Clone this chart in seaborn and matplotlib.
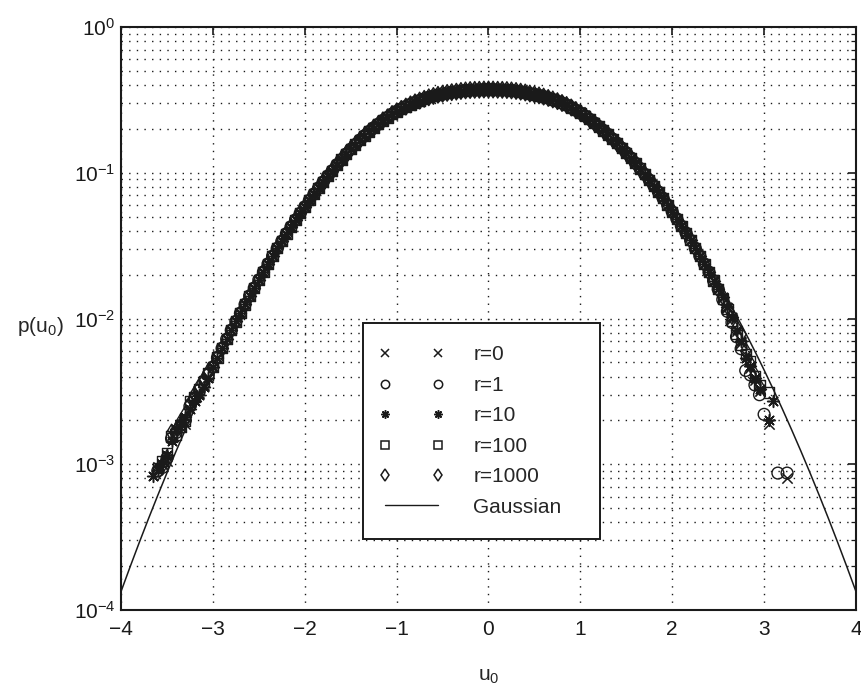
import numpy as np
import pandas as pd
import matplotlib
matplotlib.use("Agg")
import matplotlib.pyplot as plt
import seaborn as sns
from matplotlib.lines import Line2D
from matplotlib.legend_handler import HandlerLine2D
from matplotlib.ticker import LogLocator, NullFormatter, LogFormatterMathtext, FixedLocator

nan = np.nan

# ---------------- data ----------------
series_labels = ["r=0", "r=1", "r=10", "r=100", "r=1000"]

u0_left = [-3.65, -3.60, -3.55, -3.50, -3.45, -3.40, -3.35, -3.30, -3.25,
           -3.20, -3.15, -3.10, -3.05]
p_left_r0 = [nan, 9.6e-4, 1.0e-3, 1.05e-3, 1.6e-3, 1.7e-3, 1.8e-3, 1.9e-3, 2.6e-3, 2.9e-3, 3.1e-3, 3.5e-3, 4.0e-3]
p_left_r1 = [nan, 9.0e-4, 9.5e-4, 1.1e-3, 1.5e-3, 1.65e-3, 1.85e-3, 2.0e-3, 2.5e-3, 2.8e-3, 3.2e-3, 3.6e-3, 4.1e-3]
p_left_r10 = [8.3e-4, 9.2e-4, 1.0e-3, 1.15e-3, 1.45e-3, 1.75e-3, 1.9e-3, 2.1e-3, 2.4e-3, 2.7e-3, 3.0e-3, 3.4e-3, 3.9e-3]
p_left_r100 = [nan, 9.4e-4, 1.05e-3, 1.2e-3, 1.55e-3, 1.6e-3, 1.8e-3, 2.0e-3, 2.7e-3, 2.9e-3, 3.3e-3, 3.7e-3, 4.2e-3]
p_left_r1000 = [nan, 8.8e-4, 9.8e-4, 1.1e-3, 1.65e-3, 1.7e-3, 1.95e-3, 2.2e-3, 2.6e-3, 3.0e-3, 3.4e-3, 3.8e-3, 4.3e-3]

# common core (-3.00 ... 2.50, step 0.05) where all r collapse onto one curve
u0_core = np.round(np.linspace(-3.0, 2.5, 111), 2)
p_core = [
    .00465, .00540, .00625, .00721, .00832, .00954, .0109, .0125, .0143, .0162,
    .0184, .0209, .0237, .0268, .0303, .0339, .0382, .0426, .0475, .0527,
    .0583, .0647, .0715, .0786, .0865, .0949, .1034, .1136, .1231, .1344,
    .1450, .1561, .1677, .1796, .1920, .2036, .2156, .2285, .2397, .2529,
    .2638, .2744, .2847, .2947, .3042, .3131, .3217, .3295, .3365, .3429,
    .3486, .3533, .3573, .3602, .3642, .3674, .3695, .3708, .3712, .3725,
    .3730,
    .3725, .3712, .3708, .3695, .3674, .3642, .3602, .3554, .3497, .3451,
    .3395, .3332, .3262, .3185, .3101, .3013, .2919, .2807, .2693, .2577,
    .2460, .2332, .2203, .2078, .1954, .1834, .1708, .1594, .1478, .1373,
    .1266, .1164, .1069, .0978, .0893, .0814, .0739, .0669, .0602, .0540,
    .0483, .0431, .0386, .0344, .0304, .0269, .0237, .0208, .0182, .0159,
]

u0_right = [2.55, 2.60, 2.65, 2.70, 2.75, 2.80, 2.85, 2.90, 2.95, 3.00,
            3.05, 3.10, 3.15, 3.20, 3.25]
p_right_r0 = [.0138, .0118, .0100, .0082, .0068, .0056, .0046, .0038, .0032, nan, .0019, nan, nan, nan, .00080]
p_right_r1 = [.0135, .0112, .0094, .0075, .0062, .0044, .0041, .0035, .0030, .0022, nan, nan, .00087, nan, .00087]
p_right_r10 = [.0140, .0120, .0102, .0084, .0070, .0054, .0047, .0039, .0033, nan, .0020, .0027, nan, nan, nan]
p_right_r100 = [.0136, .0116, .0097, .0079, .0066, .0057, .0051, .0040, .0035, nan, .0031, nan, nan, nan, nan]
p_right_r1000 = [.0142, .0121, .0104, .0086, .0078, .0060, .0049, .0041, .0034, nan, nan, nan, nan, nan, nan]

left_tails = [p_left_r0, p_left_r1, p_left_r10, p_left_r100, p_left_r1000]
right_tails = [p_right_r0, p_right_r1, p_right_r10, p_right_r100, p_right_r1000]

x_ticks = [-4, -3, -2, -1, 0, 1, 2, 3, 4]

# ---------------- style ----------------
sns.set_theme(style="white")
plt.rcParams["font.family"] = ["Liberation Sans", "DejaVu Sans"]
plt.rcParams["mathtext.fontset"] = "custom"
plt.rcParams["mathtext.rm"] = "Liberation Sans"
plt.rcParams["mathtext.it"] = "Liberation Sans:italic"
plt.rcParams["mathtext.bf"] = "Liberation Sans:bold"
plt.rcParams["axes.unicode_minus"] = True

FS = 15

fig = plt.figure(figsize=(8.62, 6.86), dpi=100)
ax = fig.add_axes([0.1404, 0.1108, 0.8526, 0.8498])

marker_styles = [
    dict(marker="x", s=55, color="k", linewidths=1.1),
    dict(marker="o", s=72, facecolor="none", edgecolor="k", linewidths=1.0),
    dict(marker=(8, 2, 0), s=72, color="k", linewidths=1.1),
    dict(marker="s", s=55, facecolor="none", edgecolor="k", linewidths=1.0),
    dict(marker="d", s=72, facecolor="none", edgecolor="k", linewidths=1.0),
]

for lab, pl, pr, st in zip(series_labels, left_tails, right_tails, marker_styles):
    df = pd.DataFrame({
        "u0": np.concatenate([u0_left, u0_core, u0_right]),
        "p": np.concatenate([pl, p_core, pr]),
    }).dropna()
    sns.scatterplot(data=df, x="u0", y="p", ax=ax, legend=False, zorder=3, **st)

# Gaussian reference curve
u_line = np.linspace(-4, 4, 401)
gauss = np.exp(-u_line ** 2 / 2) / np.sqrt(2 * np.pi)
sns.lineplot(x=u_line, y=gauss, ax=ax, color="k", linewidth=1.1, zorder=4)

ax.set_yscale("log")
ax.set_xlim(-4, 4)
ax.set_ylim(1e-4, 1)
ax.xaxis.set_major_locator(FixedLocator(x_ticks))
ax.yaxis.set_major_locator(LogLocator(base=10, numticks=10))
ax.yaxis.set_minor_locator(LogLocator(base=10, subs=np.arange(2, 10), numticks=20))
ax.yaxis.set_major_formatter(LogFormatterMathtext())
ax.yaxis.set_minor_formatter(NullFormatter())

dot = (0, (1, 4.5))
ax.grid(True, which="major", axis="both", color="0.1", linestyle=dot, linewidth=1.0)
ax.grid(True, which="minor", axis="y", color="0.1", linestyle=dot, linewidth=1.0)
ax.set_axisbelow(True)

for sp in ax.spines.values():
    sp.set_color("k")
    sp.set_linewidth(1.5)

ax.tick_params(which="both", direction="in", top=True, right=True, colors="k")
ax.tick_params(which="major", length=6, width=1.2, labelsize=FS)
ax.tick_params(axis="x", which="major", pad=7)
ax.tick_params(axis="y", which="major", pad=4)
ax.tick_params(which="minor", length=3.5, width=0.9)

ax.set_xlabel("u$_0$", fontsize=FS)
ax.set_ylabel("p(u$_0$)", fontsize=FS, rotation=0, ha="center", va="center")
ax.xaxis.set_label_coords(0.5007, -0.0978)
ax.yaxis.set_label_coords(-0.110, 0.487)

# MATLAB-style legend
handles = []
for st in marker_styles:
    m = st["marker"]
    handles.append(Line2D([], [], linestyle="none", marker=m, color="k",
                          markerfacecolor="none", markeredgecolor="k",
                          markersize=6, markeredgewidth=1.1))
handles.append(Line2D([], [], color="k", linewidth=1.0))
labels = series_labels + ["Gaussian"]
leg = ax.legend(handles, labels, loc="upper left",
                bbox_to_anchor=(0.329, 0.1218, 0.323, 0.3705), mode="expand",
                borderaxespad=0, numpoints=2, handlelength=2.55, handletextpad=1.68,
                labelspacing=0.55, borderpad=1.08, fontsize=FS, frameon=True,
                fancybox=False, framealpha=1, edgecolor="k",
                handler_map={Line2D: HandlerLine2D(marker_pad=0)})
leg.get_frame().set_linewidth(1.4)
leg.set_zorder(10)

fig.savefig("out.png", dpi=100, facecolor="white")
